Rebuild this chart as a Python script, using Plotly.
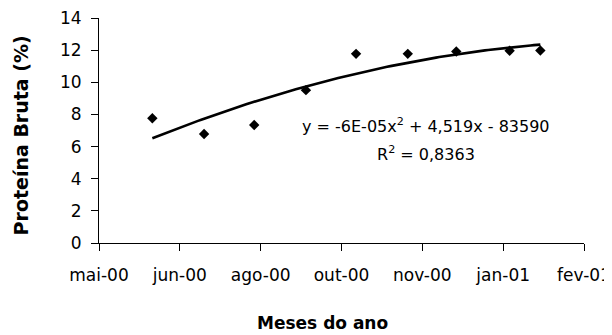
import numpy as np
import pandas as pd
import plotly.graph_objects as go

# Sample dates and crude protein values (%)
sample_dates = ["2000-06-06", "2000-07-08", "2000-08-08", "2000-09-09", "2000-10-10",
                "2000-11-11", "2000-12-11", "2001-01-13", "2001-02-01"]
protein = [7.76, 6.78, 7.34, 9.51, 11.77, 11.77, 11.92, 11.96, 11.98]

# Axis ticks (Excel date axis, 50-day major unit starting 04-May-2000)
tick_dates = ["2000-05-04", "2000-06-23", "2000-08-12", "2000-10-01",
              "2000-11-20", "2001-01-09", "2001-02-28"]
tick_labels = ["mai-00", "jun-00", "ago-00", "out-00", "nov-00", "jan-01", "fev-01"]
y_ticks = [0, 2, 4, 6, 8, 10, 12, 14]

x_title = "<b>Meses do ano</b>"
y_title = "<b>Proteína Bruta (%)</b>"
eq_text = "y = -6E-05x<sup>2</sup> + 4,519x - 83590"
r2_text = "R<sup>2</sup> = 0,8363"

# Quadratic trendline fitted to the data (as Excel does)
d = pd.to_datetime(sample_dates)
t0 = pd.Timestamp("2000-05-04")
days = np.array([(v - t0).days for v in d], dtype=float)
coef = np.polyfit(days, np.array(protein), 2)
fit_days = np.linspace(days.min(), days.max(), 120)
fit_dates = [t0 + pd.Timedelta(days=float(v)) for v in fit_days]
fit_vals = np.polyval(coef, fit_days)

FONT = "DejaVu Sans"

fig = go.Figure()
fig.add_trace(go.Scatter(x=fit_dates, y=fit_vals, mode="lines",
                         line=dict(color="black", width=2.6), showlegend=False,
                         hoverinfo="skip"))
fig.add_trace(go.Scatter(x=list(d), y=protein, mode="markers",
                         marker=dict(symbol="diamond", size=8, color="black"),
                         showlegend=False))

# page body has an 8px margin, so the figure is sized/offset accordingly
fig.update_layout(
    width=612, height=327,
    margin=dict(l=91, r=36, t=10, b=92, autoexpand=False),
    paper_bgcolor="white", plot_bgcolor="white",
    font=dict(family=FONT, color="black", size=17),
    xaxis=dict(
        type="date", automargin=False,
        range=[tick_dates[0], tick_dates[-1]],
        tickvals=tick_dates, ticktext=tick_labels,
        showgrid=False, zeroline=False,
        showline=True, linecolor="black", linewidth=1,
        ticks="outside", ticklen=7, tickcolor="black", tickwidth=1,
        ticklabelstandoff=10, ticklabeloverflow="allow",
        tickfont=dict(family=FONT, size=17, color="black"),
    ),
    yaxis=dict(
        range=[0, 14], tickvals=y_ticks, automargin=False,
        showgrid=False, zeroline=False,
        showline=True, linecolor="black", linewidth=1,
        ticks="outside", ticklen=7, tickcolor="black", tickwidth=1,
        ticklabelstandoff=6, ticklabeloverflow="allow",
        tickfont=dict(family=FONT, size=17, color="black"),
    ),
    annotations=[
        dict(text=x_title, xref="paper", yref="paper", x=0.46, y=-0.355,
             showarrow=False, font=dict(family=FONT, size=17, color="black"),
             xanchor="center", yanchor="middle"),
        dict(text=y_title, xref="paper", yref="paper", x=-0.16, y=0.48,
             textangle=-90, showarrow=False,
             font=dict(family=FONT, size=19, color="black"),
             xanchor="center", yanchor="middle"),
        dict(text=eq_text, xref="paper", yref="paper", x=0.674, y=0.524,
             showarrow=False, font=dict(family=FONT, size=16, color="black"),
             xanchor="center", yanchor="middle"),
        dict(text=r2_text, xref="paper", yref="paper", x=0.674, y=0.40,
             showarrow=False, font=dict(family=FONT, size=16, color="black"),
             xanchor="center", yanchor="middle"),
    ],
)

fig.write_html("out.html")
